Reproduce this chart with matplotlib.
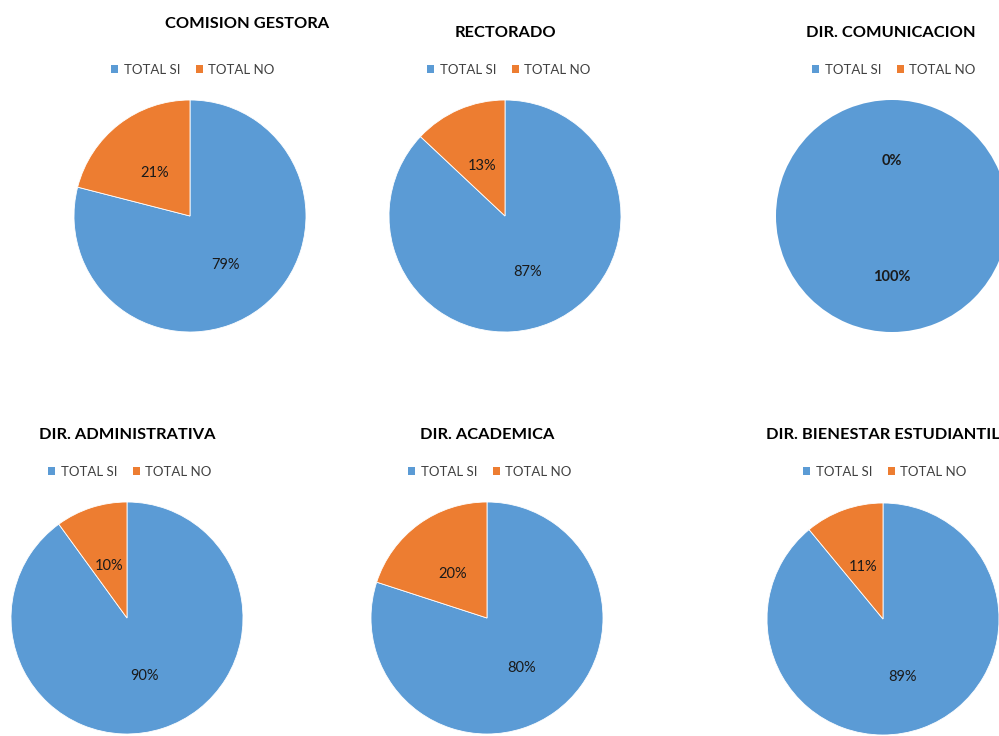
import matplotlib
matplotlib.use("Agg")
import matplotlib.pyplot as plt
from matplotlib.patches import Patch

plt.rcParams['font.family'] = ['Lato', 'DejaVu Sans']

# Survey results per department: share answering SI / NO
titles = ["COMISION GESTORA", "RECTORADO", "DIR. COMUNICACION",
          "DIR. ADMINISTRATIVA", "DIR. ACADEMICA", "DIR. BIENESTAR ESTUDIANTIL"]
total_si = [79, 87, 100, 90, 80, 89]
total_no = [21, 13, 0, 10, 20, 11]
series_labels = ["TOTAL SI", "TOTAL NO"]
colors = ["#5B9BD5", "#ED7D31"]

W, H = 999, 736
R = 116  # pie radius in px

# layout in pixels: pie centre, title position, legend position
pie_centres = [(190, 216), (505, 216), (892, 216),
               (127, 618), (487, 618), (883, 619)]
title_pos = [(247, 24), (505, 33), (891, 33),
             (127, 435), (487, 435), (883, 435)]
legend_pos = [(193, 70), (509, 70), (894, 70),
              (130, 472), (490, 472), (885, 472)]

fig = plt.figure(figsize=(W / 100, H / 100), dpi=100)

handles = [Patch(facecolor=c, edgecolor='none') for c in colors]

for i, title in enumerate(titles):
    cx, cy = pie_centres[i]
    ax = fig.add_axes([(cx - R) / W, 1 - (cy + R) / H, 2 * R / W, 2 * R / H])
    vals = [total_si[i], total_no[i]]
    bold = total_no[i] == 0
    wedges, texts = ax.pie(vals, colors=colors, startangle=90, counterclock=False,
                           radius=1.0, wedgeprops=dict(linewidth=0.6, edgecolor='white'))
    if bold:
        for w in wedges:
            w.set_edgecolor('none')
    ax.set_xlim(-1, 1)
    ax.set_ylim(-1, 1)
    ax.set_aspect('equal')
    ax.axis('off')

    # percentage labels half way out along each wedge (axes nudged down 3px)
    lab_ax = fig.add_axes([(cx - R) / W, 1 - (cy + R + 3) / H, 2 * R / W, 2 * R / H])
    lab_ax.pie(vals, colors=['none', 'none'], startangle=90, counterclock=False,
               radius=1.0, labels=[f"{v}%" for v in vals], labeldistance=0.5,
               textprops=dict(ha='center', va='center', fontsize=10.5, color='#1a1a1a',
                              fontweight='bold' if bold else 'normal'))
    lab_ax.set_xlim(-1, 1)
    lab_ax.set_ylim(-1, 1)
    lab_ax.set_aspect('equal')
    lab_ax.axis('off')

    tx, ty = title_pos[i]
    fig.text(tx / W, 1 - ty / H, title, ha='center', va='center',
             fontsize=11.8, fontweight='bold', color='#000000')

    lx, ly = legend_pos[i]
    fig.legend(handles, series_labels, loc='center',
               bbox_to_anchor=(lx / W, 1 - ly / H), ncol=2, frameon=False,
               fontsize=9.5, handlelength=0.55, handleheight=0.55,
               handletextpad=0.4, columnspacing=1.2, labelcolor='#404040')

fig.savefig("out.png", dpi=100, facecolor='white')
